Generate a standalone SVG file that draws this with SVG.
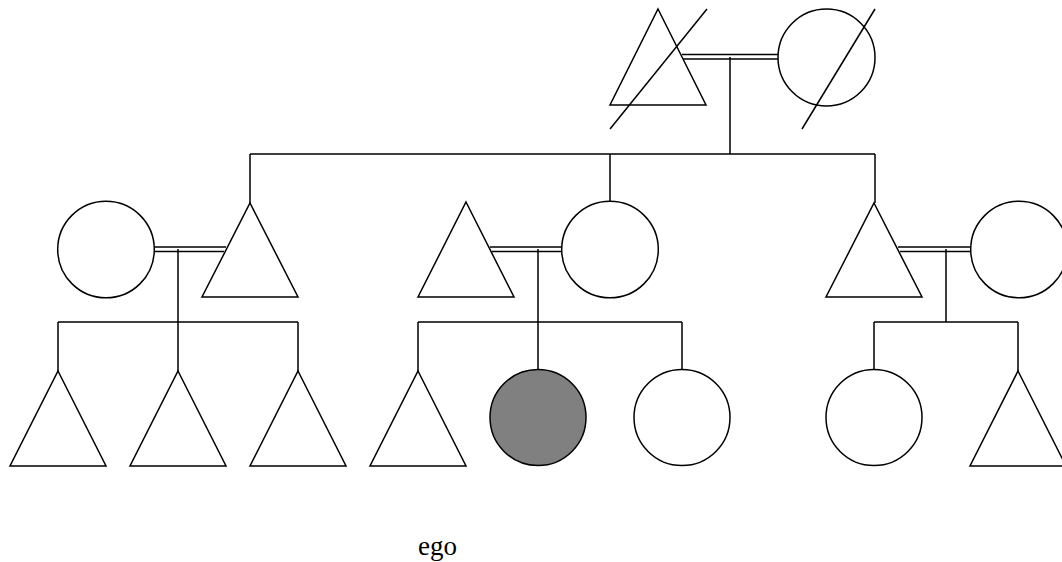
<svg xmlns="http://www.w3.org/2000/svg" width="1062" height="562" viewBox="0 0 1062 562">
<style>
.s{fill:#fff;stroke:#000;stroke-width:1.5}
.ego{fill:#808080;stroke:#000;stroke-width:1.5}
.c{fill:none;stroke:#000;stroke-width:1.5}
.t{font-family:"Liberation Serif",serif;font-size:27px;fill:#000}
</style>
<rect width="1062" height="562" fill="#fff"/>
<g id="connectors">
<path class="c" d="M730 57V154M250 154H875M250 154V203M610 154V202M875 154V203"/>
<path class="c" d="M682 54.5H778M683 59H778"/>
<path class="c" d="M154 247H226M154 251.5H224M178 249V371M58 322H298M58 322V371M298 322V371"/>
<path class="c" d="M490 247H562M492 251.5H562M538 249V369M418 322H682M418 322V371M682 322V369"/>
<path class="c" d="M898 247H971M900 251.5H971M946 249V322M874 322H1018M874 322V369M1018 322V371"/>
</g>
<g id="gf"><polygon class="s" points="658,9 706,105 610,105"/><line class="c" x1="707" y1="9" x2="610" y2="129"/></g>
<g id="gm"><circle class="s" cx="826.5" cy="57.5" r="48.5"/><line class="c" x1="875" y1="9" x2="802" y2="129"/></g>
<g id="w1"><circle class="s" cx="106" cy="249.5" r="48.3"/></g>
<g id="h1"><polygon class="s" points="250,203 298,297 202,297"/></g>
<g id="f2"><polygon class="s" points="466,202 514,297 418,297"/></g>
<g id="m2"><circle class="s" cx="610" cy="249.5" r="48.3"/></g>
<g id="h3"><polygon class="s" points="874,203 922,297 826,297"/></g>
<g id="w3"><circle class="s" cx="1019" cy="249.5" r="48.3"/></g>
<g id="c1"><polygon class="s" points="58,371 106,466 10,466"/></g>
<g id="c2"><polygon class="s" points="178,371 226,466 130,466"/></g>
<g id="c3"><polygon class="s" points="298,371 346,466 250,466"/></g>
<g id="c4"><polygon class="s" points="418,371 466,466 370,466"/></g>
<g id="ego"><circle class="ego" cx="538" cy="417.5" r="48"/></g>
<g id="c6"><circle class="s" cx="682" cy="417.5" r="48"/></g>
<g id="c7"><circle class="s" cx="874" cy="417.5" r="48"/></g>
<g id="c8"><polygon class="s" points="1018,371 1066,466 970,466"/></g>
<text class="t" x="418" y="555">ego</text>
</svg>
